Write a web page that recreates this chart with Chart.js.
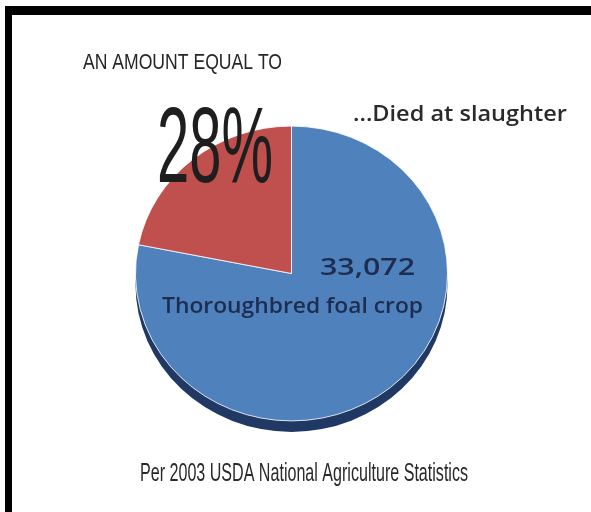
<!DOCTYPE html>
<html>
<head>
<meta charset="utf-8">
<script src="https://cdn.jsdelivr.net/npm/chart.js@4.4.1/dist/chart.umd.min.js"></script>
<style>
    html, body { margin: 0; padding: 0; background: #fff; }
    .frame {
        position: absolute; left: 5px; top: 6px; right: 0; bottom: 0;
        border-top: 9px solid #000; border-left: 7px solid #000;
    }
    .graph { position: absolute; left: 0; top: 0; width: 591px; height: 512px; }
</style>
</head>
<body>
<div class="frame"></div>
<div class="graph"><canvas id="pie"></canvas></div>
<script>
const categories = ['Thoroughbred foal crop', 'Died at slaughter'];
const values = [33072, 9260];
const sliceColors = ['#4f81bd', '#c0504d'];

const headText = 'AN AMOUNT EQUAL TO';
const bigText = '28%';
const diedText = '...Died at slaughter';
const countText = '33,072';
const cropText = 'Thoroughbred foal crop';
const sourceText = 'Per 2003 USDA National Agriculture Statistics';

const squash = 0.945; // pie looks slightly tilted

const tiltPlugin = {
    id: 'tilt',
    beforeDatasetsDraw(chart) {
        const {ctx} = chart;
        const arc = chart.getDatasetMeta(0).data[0];
        const cx = arc.x, cy = arc.y, r = arc.outerRadius;
        ctx.save();
        ctx.translate(cx, cy);
        ctx.scale(1, squash);
        ctx.translate(-cx, -cy);
        // dark rim under the pie
        ctx.fillStyle = '#1f3864';
        ctx.beginPath();
        ctx.arc(cx, cy + 11 / squash, r, 0, Math.PI * 2);
        ctx.fill();
    },
    afterDatasetsDraw(chart) {
        chart.ctx.restore();
    }
}

// draws text stretched/squeezed to the given width
function label(ctx, text, x, y, font, color, width) {
    ctx.save();
    ctx.font = font;
    ctx.fillStyle = color;
    ctx.textAlign = 'left';
    ctx.textBaseline = 'alphabetic';
    const w = ctx.measureText(text).width;
    ctx.translate(x, y);
    ctx.scale(width / w, 1);
    ctx.fillText(text, 0, 0);
    ctx.restore();
}

const textPlugin = {
    id: 'texts',
    afterDraw(chart) {
        const {ctx} = chart;
        const narrow = '"Liberation Sans Narrow", "Liberation Sans", sans-serif';
        const calib = '"Open Sans", Lato, sans-serif';
        label(ctx, headText, 83, 69, '22px ' + narrow, '#262626', 199);
        label(ctx, bigText, 157, 182, '107px ' + narrow, '#1e1e1e', 116);
        label(ctx, diedText, 353, 121, '600 21px ' + calib, '#2a2a2a', 214);
        label(ctx, countText, 320, 275, '600 24px ' + calib, '#1c2d4f', 95);
        label(ctx, cropText, 162, 313, '600 21px ' + calib, '#1c2d4f', 261);
        label(ctx, sourceText, 140, 481, '25px ' + narrow, '#2a2a2a', 328);
    }
}

new Chart(document.getElementById('pie'), {
    type: 'pie',
    data: {
        labels: categories,
        datasets: [{
            data: values,
            backgroundColor: sliceColors,
            borderColor: 'rgba(255,255,255,0.85)',
            borderWidth: 1
        }]
    },
    options: {
        responsive: true,
        maintainAspectRatio: false,
        animation: false,
        layout: { padding: { left: 135, right: 143, top: 117, bottom: 82 } },
        plugins: {
            legend: { display: false },
            tooltip: { enabled: false }
        }
    },
    plugins: [tiltPlugin, textPlugin]
});
</script>
</body>
</html>
